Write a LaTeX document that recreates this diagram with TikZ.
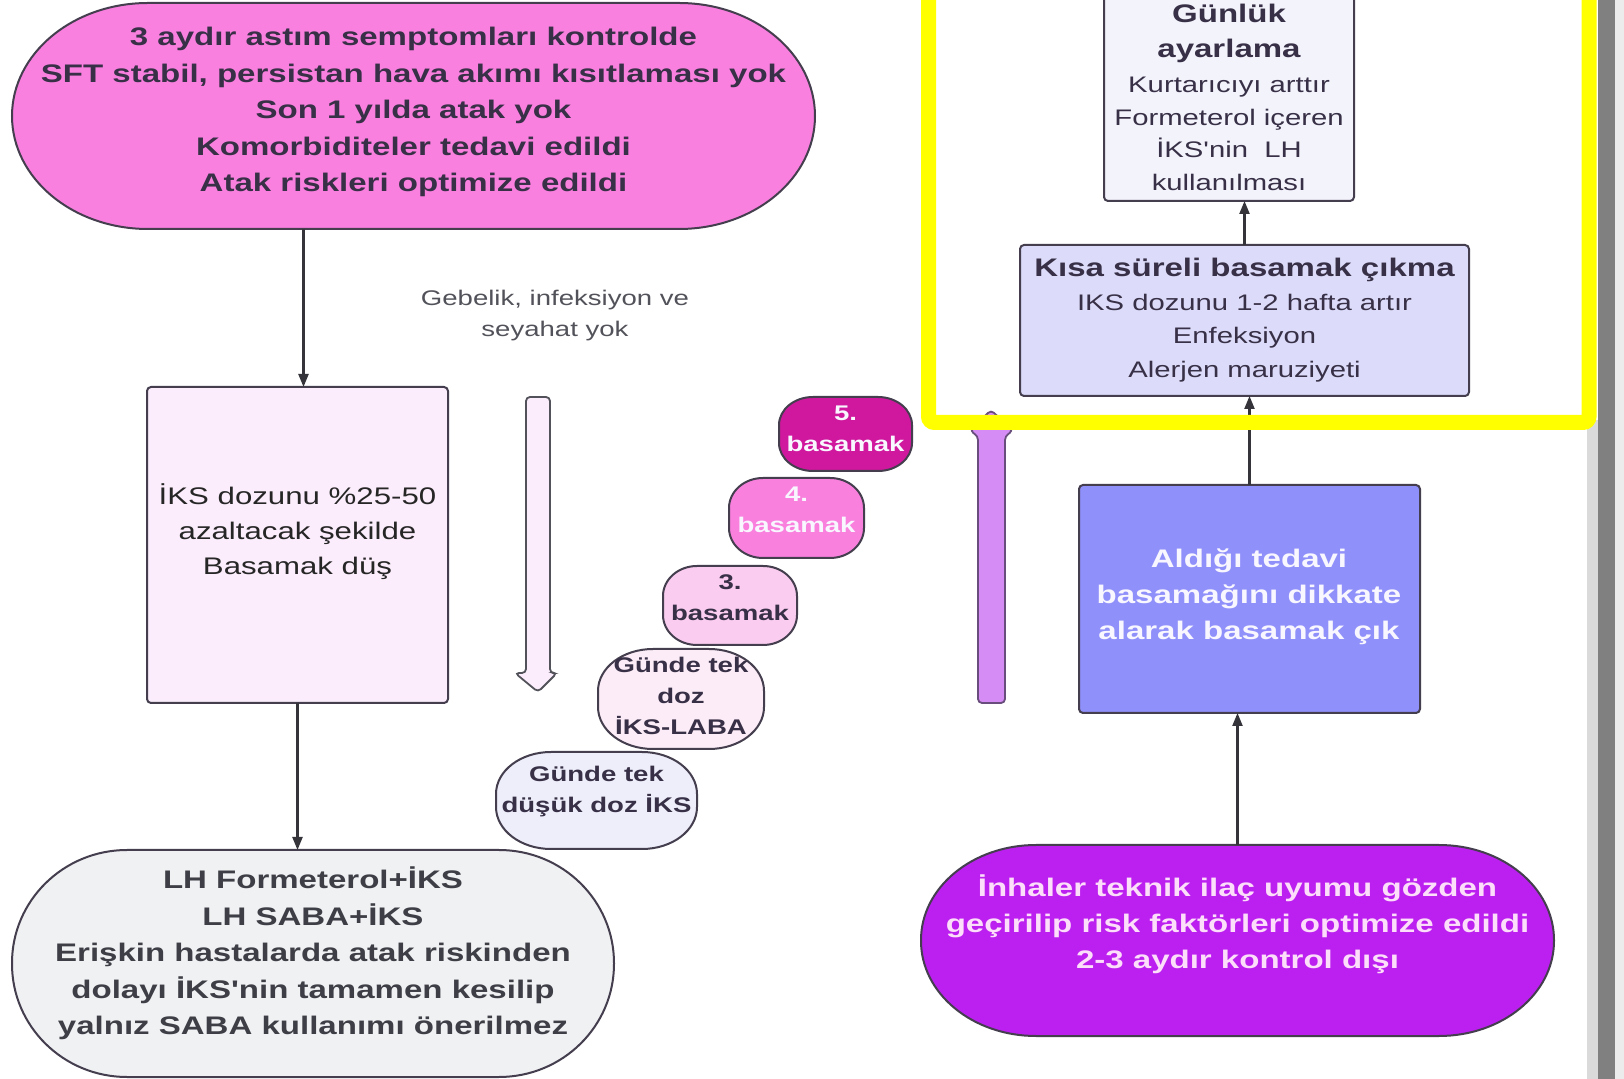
\documentclass[tikz,border=0pt]{standalone}
\usepackage{fontspec}
\setmainfont{Liberation Sans}[Ligatures=TeXOff]
\usepackage{graphicx}
\usetikzlibrary{arrows.meta}

% palette
\definecolor{inkDark}{RGB}{56,48,70}
\definecolor{inkGray}{RGB}{62,62,70}
\definecolor{inkSoft}{RGB}{82,82,90}
\definecolor{edge}{RGB}{68,62,78}
\definecolor{wire}{RGB}{52,52,58}
\definecolor{pinkHot}{RGB}{250,128,224}
\definecolor{roseFaint}{RGB}{251,237,251}
\definecolor{cloud}{RGB}{240,241,243}
\definecolor{stepFive}{RGB}{208,24,158}
\definecolor{stepFour}{RGB}{250,128,222}
\definecolor{stepThree}{RGB}{250,205,240}
\definecolor{stepTwo}{RGB}{252,236,247}
\definecolor{stepOne}{RGB}{238,238,250}
\definecolor{barFill}{RGB}{214,140,245}
\definecolor{barEdge}{RGB}{105,78,125}
\definecolor{lilacPale}{RGB}{243,243,252}
\definecolor{lilac}{RGB}{220,220,250}
\definecolor{periwinkle}{RGB}{144,144,250}
\definecolor{violet}{RGB}{188,32,240}
\definecolor{whiteText}{RGB}{248,246,255}
\definecolor{pinkText}{RGB}{252,222,250}
\definecolor{markYellow}{RGB}{255,255,0}
\definecolor{stripLight}{RGB}{218,218,218}
\definecolor{stripDark}{RGB}{128,128,128}
\definecolor{stripPale}{RGB}{236,236,236}

% fonts (text is widened horizontally by \stk)
\newcommand\fbig{\fontsize{12.7}{18.25}\selectfont\bfseries}
\newcommand\fbigb{\fontsize{12.7}{18}\selectfont\bfseries}
\newcommand\fstep{\fontsize{10.6}{15.5}\selectfont\bfseries}
\newcommand\fnote{\fontsize{10.6}{15.5}\selectfont}
\newcommand\fplain{\fontsize{12}{17.4}\selectfont}
\newcommand\fsmallA{\fontsize{11.25}{16.2}\selectfont}
\newcommand\fsmallB{\fontsize{11.25}{16.75}\selectfont}
\newcommand\fhead{\fontsize{12.7}{16.2}\selectfont\bfseries}

% centred stack of lines, anchored at the baseline of its first line
\newcommand\stk[1]{\scalebox{1.3}[1]{\begin{tabular}[t]{@{}c@{}}#1\end{tabular}}}

% rectangle with elliptical corners: name, style, x1, y1, x2, y2, rx, ry
\newcommand\ovalshape[8]{%
  \path[#2] (#3+#7,#4) -- (#5-#7,#4)
    .. controls (#5-0.4477*#7,#4) and (#5,#4+0.4477*#8) .. (#5,#4+#8)
    -- (#5,#6-#8)
    .. controls (#5,#6-0.4477*#8) and (#5-0.4477*#7,#6) .. (#5-#7,#6)
    -- (#3+#7,#6)
    .. controls (#3+0.4477*#7,#6) and (#3,#6-0.4477*#8) .. (#3,#6-#8)
    -- (#3,#4+#8)
    .. controls (#3,#4+0.4477*#8) and (#3+0.4477*#7,#4) .. (#3+#7,#4) -- cycle;
  \node[holder, minimum width={(#5-#3)*0.5pt}, minimum height={(#6-#4)*0.5pt}]
    (#1) at ({(#3+#5)/2},{(#4+#6)/2}) {};}

% plain box: name, style, x1, y1, x2, y2
\newcommand\rectshape[6]{%
  \node[#2, minimum width={(#5-#3)*0.5pt}, minimum height={(#6-#4)*0.5pt}]
    (#1) at ({(#3+#5)/2},{(#4+#6)/2}) {};}

\tikzset{
  holder/.style={inner sep=0pt, outer sep=0pt},
  shapeline/.style={draw=edge, line width=1pt},
  boxed/.style={holder, shapeline, rounded corners=2pt},
  words/.style={anchor=base, inner sep=0pt, outer sep=0pt},
  conn/.style={draw=wire, line width=1.1pt, -{Triangle[length=6.5pt,width=5pt]}},
}

\begin{document}
\begin{tikzpicture}[x=0.5pt, y=-0.5pt]
\useasboundingbox (0,0) rectangle (1624,1079);
\fill[white] (0,0) rectangle (1624,1079);

% edge strips on the right
\fill[stripLight] (1587,420) rectangle (1598,1079);
\fill[stripDark] (1598,0) rectangle (1615,1079);
\fill[stripPale] (1615,0) rectangle (1624,1079);

% ---- left column ----
\ovalshape{controlled}{shapeline, fill=pinkHot}{12}{3}{815}{229}{136}{113}
\rectshape{reduce}{boxed, fill=roseFaint}{147}{387}{448}{703}
\ovalshape{reliever}{shapeline, fill=cloud}{12}{850}{614}{1077}{115}{113}

\draw[conn] ([xshift=3pt]reduce.north |- controlled.south) -- ([xshift=3pt]reduce.north);
\draw[conn] (reduce.south) -- (reduce.south |- reliever.north);

\node[words, font=\fbig, text=inkDark] (controlledText) at (413.5,46)
  {\stk{3 aydır astım semptomları kontrolde\\
        SFT stabil, persistan hava akımı kısıtlaması yok\\
        Son 1 yılda atak yok\\
        Komorbiditeler tedavi edildi\\
        Atak riskleri optimize edildi}};
\node[words, font=\fplain, text=black!85] (reduceText) at (297.5,505)
  {\stk{İKS dozunu \%25-50\\ azaltacak şekilde\\ Basamak düş}};
\node[words, font=\fbig, text=inkGray] (relieverText) at (313,889)
  {\stk{LH Formeterol+İKS\\
        LH SABA+İKS\\
        Erişkin hastalarda atak riskinden\\
        dolayı İKS'nin tamamen kesilip\\
        yalnız SABA kullanımı önerilmez}};

\node[words, font=\fnote, text=inkSoft] (condition) at (555,306)
  {\stk{Gebelik, infeksiyon ve\\ seyahat yok}};

% hollow arrow pointing down
\path[draw=inkSoft, fill=roseFaint, line width=0.9pt, rounded corners=2pt]
  (526,673) -- (526,397) -- (550,397) -- (550,673) -- (557,673)
  -- (538,692) -- (515,673) -- cycle;

% ---- treatment steps ----
\ovalshape{stepV}{shapeline, fill=stepFive}{779}{397}{912}{471}{34}{28}
\ovalshape{stepIV}{shapeline, fill=stepFour}{729}{478}{864}{558}{34}{30}
\ovalshape{stepIII}{shapeline, fill=stepThree}{663}{566}{797}{645}{34}{30}
\ovalshape{stepII}{shapeline, fill=stepTwo}{598}{649}{764}{749}{55}{42}
\ovalshape{stepI}{shapeline, fill=stepOne}{496}{752}{697}{849}{55}{42}

\node[words, font=\fstep, text=whiteText] (stepVText) at (845.5,421)
  {\stk{5.\\ basamak}};
\node[words, font=\fstep, text=whiteText] (stepIVText) at (796.5,502)
  {\stk{4.\\ basamak}};
\node[words, font=\fstep, text=inkDark] (stepIIIText) at (730,590)
  {\stk{3.\\ basamak}};
\node[words, font=\fstep, text=inkDark] (stepIIText) at (681,673)
  {\stk{Günde tek\\ doz\\ İKS-LABA}};
\node[words, font=\fstep, text=inkDark] (stepIText) at (596.5,782)
  {\stk{Günde tek\\ düşük doz İKS}};

% solid bar pointing up
\path[draw=barEdge, fill=barFill, line width=0.9pt, rounded corners=2pt]
  (978,703) -- (978,436) -- (970,431) -- (991,410) -- (1013,431)
  -- (1005,436) -- (1005,703) -- cycle;

% ---- right column ----
\rectshape{daily}{boxed, fill=lilacPale}{1104}{-20}{1354}{201}
\rectshape{shortUp}{boxed, fill=lilac}{1020}{245}{1469}{396}
\rectshape{stepUp}{boxed, fill=periwinkle}{1079}{485}{1420}{713}
\ovalshape{uncontrolled}{shapeline, fill=violet}{921}{845}{1554}{1036}{115}{95}

\draw[conn] (shortUp.north) -- (shortUp.north |- daily.south);
\draw[conn] (stepUp.north) -- (stepUp.north |- shortUp.south);
\draw[conn] (uncontrolled.north) -- (uncontrolled.north |- stepUp.south);

\node[words, font=\fsmallA, text=inkDark] (dailyText) at (1229,22.7)
  {\stk{{\fhead Günlük}\\[1.45pt]
        {\fhead ayarlama}\\[1.3pt]
        Kurtarıcıyı arttır\\
        Formeterol içeren\\
        İKS'nin\ \ LH\\
        kullanılması}};
\node[words, font=\fsmallB, text=inkDark] (shortUpText) at (1244.5,277)
  {\stk{{\fhead Kısa süreli basamak çıkma}\\
        IKS dozunu 1-2 hafta artır\\
        Enfeksiyon\\
        Alerjen maruziyeti}};
\node[words, font=\fbigb, text=whiteText] (stepUpText) at (1249,568)
  {\stk{Aldığı tedavi\\ basamağını dikkate\\ alarak basamak çık}};
\node[words, font=\fbigb, text=pinkText] (uncontrolledText) at (1237.5,897)
  {\stk{İnhaler teknik ilaç uyumu gözden\\
        geçirilip risk faktörleri optimize edildi\\
        2-3 aydır kontrol dışı}};

% highlight frame
\draw[markYellow, line width=7.5pt, rounded corners=3pt]
  (928.5,-30) -- (928.5,422.5) -- (1589,422.5) -- (1589,-30);
\end{tikzpicture}
\end{document}
